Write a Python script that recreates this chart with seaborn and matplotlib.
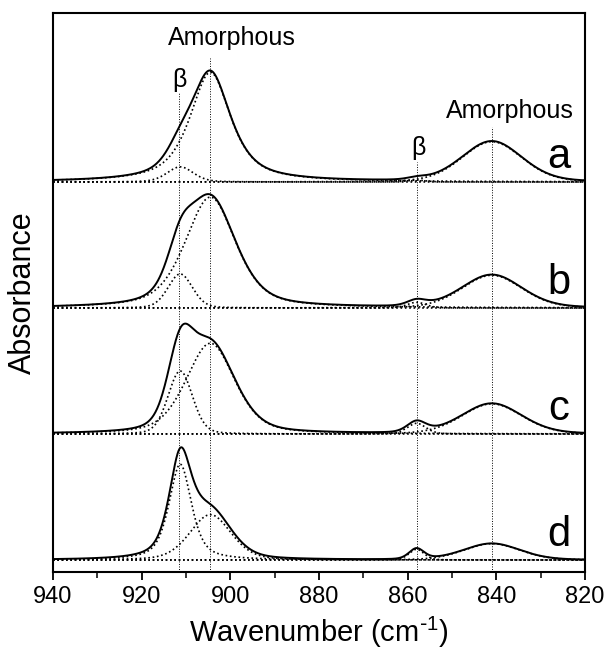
import numpy as np
import pandas as pd
import matplotlib
matplotlib.use("Agg")
import matplotlib.pyplot as plt
import seaborn as sns
from matplotlib.ticker import MultipleLocator

# ---------------- data (peak-fit parameters) ----------------
samples = ["a", "b", "c", "d"]
offsets = [3, 2, 1, 0]

# beta band near 911 cm-1
beta1_center = 911.3
beta1_height = [0.12, 0.27, 0.50, 0.76]
beta1_fwhm = [7.0, 6.5, 6.5, 6.0]
beta1_eta = [0.3, 0.2, 0.2, 0.6]

# amorphous band near 905 cm-1
amor1_center = 904.5
amor1_height = [0.87, 0.88, 0.72, 0.36]
amor1_fwhm = [11.0, 13.5, 13.0, 11.0]
amor1_eta = [0.75, 0.5, 0.4, 0.3]

# beta band near 858 cm-1
beta2_center = 858.0
beta2_height = [0.015, 0.045, 0.085, 0.085]
beta2_fwhm = [5.0, 5.0, 5.0, 4.0]
beta2_eta = [0.3, 0.3, 0.3, 0.3]

# amorphous band near 841 cm-1
amor2_center = 841.0
amor2_height = [0.32, 0.26, 0.24, 0.13]
amor2_fwhm = [16.0, 16.0, 16.0, 15.0]
amor2_eta = [0.2, 0.2, 0.2, 0.2]

band_labels = ["β", "Amorphous", "β", "Amorphous"]
band_positions = [911.5, 904.5, 858.0, 841.0]
x_ticks = [940, 920, 900, 880, 860, 840, 820]

# ---------------- build curves ----------------
x = np.linspace(940, 820, 1201)


def pseudo_voigt(xx, c, h, w, eta):
    hw = w / 2.0
    z = (xx - c) / hw
    lor = 1.0 / (1.0 + z ** 2)
    gau = np.exp(-np.log(2) * z ** 2)
    return h * (eta * lor + (1 - eta) * gau)


rows = []
for i, s in enumerate(samples):
    comps = [
        pseudo_voigt(x, beta1_center, beta1_height[i], beta1_fwhm[i], beta1_eta[i]),
        pseudo_voigt(x, amor1_center, amor1_height[i], amor1_fwhm[i], amor1_eta[i]),
        pseudo_voigt(x, beta2_center, beta2_height[i], beta2_fwhm[i], beta2_eta[i]),
        pseudo_voigt(x, amor2_center, amor2_height[i], amor2_fwhm[i], amor2_eta[i]),
    ]
    total = np.sum(comps, axis=0)
    for k, cy in enumerate(comps):
        rows.append(pd.DataFrame({"x": x, "y": cy + offsets[i], "sample": s, "curve": f"comp{k}"}))
    rows.append(pd.DataFrame({"x": x, "y": total + offsets[i], "sample": s, "curve": "total"}))
df = pd.concat(rows, ignore_index=True)

# ---------------- plot ----------------
sns.set_theme(style="white")
plt.rcParams["font.family"] = ["Liberation Sans", "DejaVu Sans"]
plt.rcParams["mathtext.default"] = "regular"
plt.rcParams["text.color"] = "black"
plt.rcParams["axes.labelcolor"] = "black"
plt.rcParams["xtick.color"] = "black"
plt.rcParams["ytick.color"] = "black"

fig = plt.figure(figsize=(6.07, 6.49), dpi=100)
ax = fig.add_axes([53 / 607, 1 - 572 / 649, 532 / 607, 559 / 649])

ymin, ymax = -0.095, 4.341

# vertical reference lines
line_tops = [3.71, 3.98, 3.16, 3.44]
for xp, yt in zip(band_positions, line_tops):
    ax.plot([xp, xp], [ymin, yt], color="black", lw=0.7, ls=(0, (1, 1.6)), zorder=1)

for s in samples:
    sub = df[df["sample"] == s]
    for cname in ["comp0", "comp1", "comp2", "comp3"]:
        d = sub[sub["curve"] == cname]
        sns.lineplot(data=d, x="x", y="y", ax=ax, color="black", lw=1.2,
                     linestyle=(0, (1, 1.6)), estimator=None, sort=False, zorder=2)
    d = sub[sub["curve"] == "total"]
    sns.lineplot(data=d, x="x", y="y", ax=ax, color="black", lw=1.4,
                 estimator=None, sort=False, zorder=3)

# labels of bands
ax.text(911.4, 3.81, band_labels[0], fontsize=18, ha="center", va="center", color="black")
ax.text(899.6, 4.14, band_labels[1], fontsize=18, ha="center", va="center", color="black")
ax.text(857.6, 3.27, band_labels[2], fontsize=18, ha="center", va="center", color="black")
ax.text(836.9, 3.56, band_labels[3], fontsize=18, ha="center", va="center", color="black")

for s, off in zip(samples, offsets):
    ax.text(825.9, off + 0.11, s, fontsize=30, ha="center", va="baseline", color="black")

ax.set_xlim(940, 820)
ax.set_ylim(ymin, ymax)
ax.set_xticks(x_ticks)
ax.xaxis.set_minor_locator(MultipleLocator(10))
ax.set_yticks([])
ax.tick_params(axis="x", which="major", direction="out", length=6, width=1.3,
               labelsize=17, bottom=True, pad=4, colors="black")
ax.tick_params(axis="x", which="minor", direction="out", length=4, width=1.1, bottom=True)

for sp in ax.spines.values():
    sp.set_visible(True)
    sp.set_linewidth(1.5)
    sp.set_color("black")

ax.set_xlabel("Wavenumber (cm$^{\\text{-}1}$)", fontsize=21, color="black")
ax.set_ylabel("Absorbance", fontsize=22, color="black")
ax.xaxis.set_label_coords(0.5, (572 - 632) / 559)
ax.xaxis.label.set_verticalalignment("center")
ax.yaxis.set_label_coords((23 - 53) / 532, 0.5)
ax.yaxis.label.set_verticalalignment("center")

fig.savefig("out.png", dpi=100)
